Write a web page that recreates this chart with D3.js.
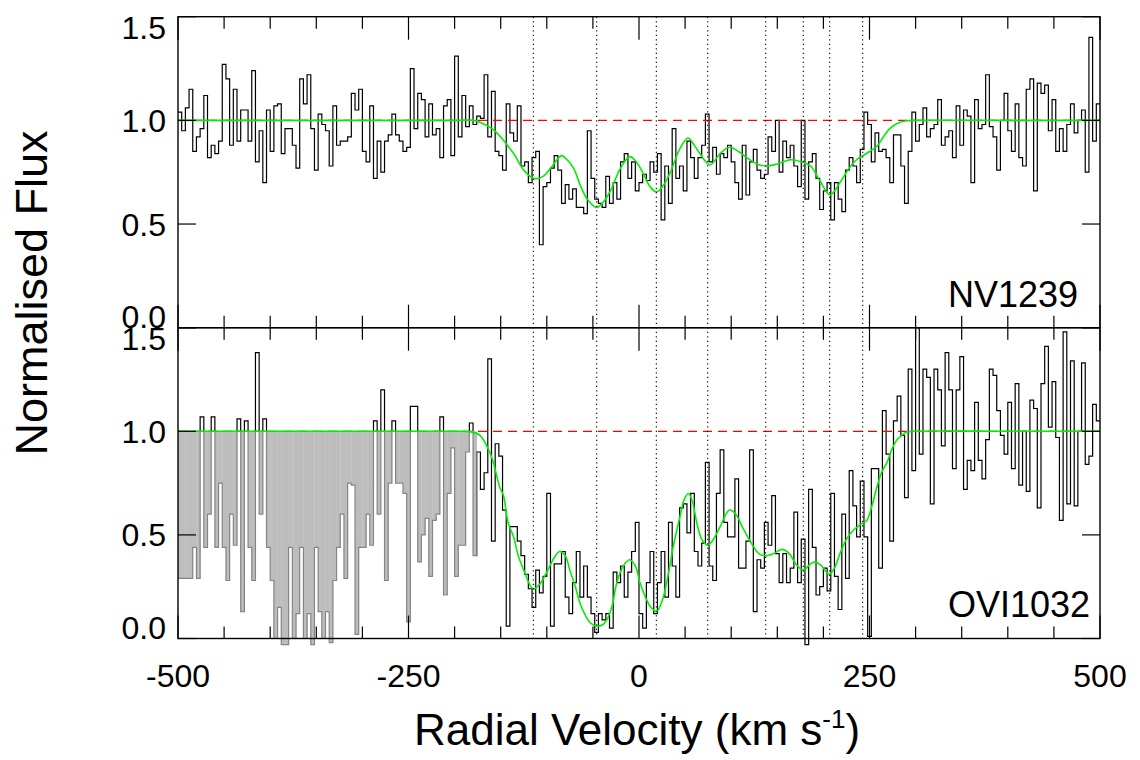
<!DOCTYPE html>
<html><head><meta charset="utf-8">
<script src="https://cdn.jsdelivr.net/npm/d3@7"></script>
<style>body{margin:0;background:#fff}svg{display:block}text{font-family:"Liberation Sans",Arial,sans-serif;fill:#000}</style>
</head><body><svg id="c" width="1140" height="760"></svg>
<script>
// ---------- data ----------
const vStart = -500, binWidth = 4;
const topFlux = [
1.04,0.95,1.06,1.15,0.85,0.92,0.96,1.12,0.82,0.88,
0.84,0.9,1.27,1.2,0.88,1.15,0.9,1.05,1.05,0.9,
1.24,0.8,0.95,0.7,1.05,0.85,1.07,1.08,0.84,0.96,
0.96,0.88,0.77,1.2,1.08,1.22,0.96,0.76,1.03,0.98,
0.95,0.78,1.07,0.88,0.9,0.9,0.92,1.13,1.05,1.15,
0.85,0.8,1.07,0.72,0.9,0.75,0.9,0.93,1.03,0.93,
0.9,0.85,0.87,1.25,0.96,1.13,1.1,0.92,1.08,0.93,
0.96,0.82,1.07,1.1,0.83,1.31,0.92,1.12,0.97,1.07,
0.98,1.02,1.01,1.22,0.92,1.14,0.85,
0.83,0.76,1.08,0.94,0.9,1.07,0.78,0.8,0.7,0.82,
0.85,0.4,0.68,0.7,0.77,0.83,0.76,0.6,0.69,0.62,
0.67,0.58,0.58,0.55,0.95,0.72,0.62,0.6,0.58,0.73,
0.6,0.7,0.62,0.8,0.84,0.72,0.8,0.66,0.7,0.74,
0.71,0.8,0.75,0.84,0.52,0.78,0.6,0.96,0.72,0.78,
0.66,0.9,0.82,0.72,0.82,0.88,1.03,0.8,0.87,0.74,
0.84,0.82,0.88,0.8,0.7,0.62,0.88,0.64,0.8,0.86,
0.76,0.72,0.74,0.92,0.85,1.0,0.75,0.9,0.82,0.88,
0.78,0.68,1.0,0.62,0.8,0.84,0.72,0.57,0.66,0.7,
0.52,0.7,0.62,0.56,0.76,0.82,0.78,0.7,0.86,1.04,
0.98,0.8,0.94,0.85,
0.86,
0.82,0.7,0.93,0.93,0.78,0.6,0.85,1.04,0.9,0.98,
1.06,0.92,0.96,0.98,1.1,0.88,0.92,0.95,0.82,1.07,
0.88,1.05,1.02,0.7,1.1,0.96,0.98,1.22,0.97,0.92,
0.76,1.0,1.13,0.95,0.85,1.08,0.82,0.78,1.15,1.2,
0.66,1.18,1.13,1.17,0.95,1.1,0.85,0.96,0.85,0.98,
1.08,0.94,1.0,1.05,0.75,1.4,0.9,1.08];

const botFlux = [
0.29,0.29,0.29,0.29,0.44,0.29,1.07,0.44,0.6,1.07,
0.44,0.75,0.44,0.28,0.6,0.45,1.06,0.13,1.05,0.44,
0.28,1.38,0.6,1.06,0.44,0.28,0.0,0.15,-0.03,-0.03,
0.44,0.0,0.12,0.44,0.0,0.12,-0.03,0.44,0.13,0.0,
0.13,-0.02,0.28,0.44,0.6,0.29,0.75,0.74,0.02,0.44,
0.44,0.6,0.45,1.05,0.6,1.2,0.28,0.75,1.05,0.75,
0.75,0.7,0.08,1.12,1.12,0.37,0.5,0.58,0.3,0.57,
0.6,1.07,0.21,0.7,0.92,0.3,0.45,0.45,0.9,1.04,
0.4,0.9,0.72,0.8,1.35,0.47,0.94,
0.88,0.62,0.06,0.54,0.54,0.47,0.4,0.31,0.24,0.15,
0.33,0.22,0.3,0.7,0.06,0.36,0.36,0.42,0.2,0.12,
0.27,0.42,0.2,0.35,0.2,0.12,0.03,0.12,0.09,0.12,
0.05,0.32,0.27,0.35,0.2,0.32,0.42,0.56,0.12,0.05,
0.27,0.42,0.12,0.27,0.42,0.2,0.56,0.35,0.2,0.63,
0.65,0.51,0.7,0.42,0.35,0.46,0.85,0.35,0.28,0.7,
0.91,0.56,0.49,0.49,0.77,0.34,0.34,0.47,0.91,0.13,
0.38,0.34,0.56,0.45,0.69,0.41,0.27,0.41,0.27,0.34,
0.61,0.27,0.48,-0.03,0.72,0.44,0.21,0.25,
0.34,0.23,0.7,0.3,0.14,0.6,0.29,0.81,0.64,0.49,
0.76,0.49,0.01,0.82,0.82,0.34,1.1,0.89,0.47,1.05,
1.17,0.98,0.68,1.3,0.81,1.5,0.89,1.3,1.26,0.65,
1.3,1.2,0.93,1.38,1.2,0.82,1.2,1.36,0.72,0.86,
0.81,1.14,0.86,0.77,0.96,1.3,1.27,1.1,0.98,0.89,
1.14,0.82,1.23,0.74,1.0,0.71,1.15,1.11,0.63,1.23,
1.41,1.02,1.24,0.97,0.57,1.48,0.65,1.34,0.64,1.0,
1.33,0.84,0.88,1.13,1.05];

const topFitV = [-500,-300,-200,-180,-172,-158,-136,-125,-114,-104,-94,-84,-78,-71,-63,-56,-46,-38,-31,-20,-10,-3,5,12,19,27,35,44,53,60,66,77,88,98,108,117,128,138,150,164,176,186,196,207,218,228,236,243,250,258,265,272,280,290,300,400,500];
const topFitF = [1,1,1,1,0.99,0.955,0.84,0.76,0.72,0.73,0.78,0.83,0.81,0.77,0.68,0.62,0.58,0.61,0.66,0.77,0.825,0.8,0.74,0.68,0.655,0.69,0.76,0.86,0.915,0.88,0.84,0.785,0.84,0.87,0.85,0.82,0.79,0.78,0.79,0.81,0.8,0.78,0.71,0.64,0.7,0.77,0.81,0.83,0.85,0.875,0.92,0.96,0.985,0.998,1,1,1];

const botFitV = [-500,-300,-200,-190,-183,-172.5,-162,-158,-151,-147,-142,-136,-131,-125,-115,-108,-100,-92,-86,-80,-75,-69,-64,-58,-53,-46,-40,-35,-29,-24,-17,-10,-4,1,7,12,19,25,30,37,44.5,49,53.5,58,62.6,68,74.5,81,88,98,105,113,124,130,137,146,155,163,170,178,186,191,198,206,212,218,225,232,240,247,252,258,263,269,274,280,285,290,300,400,500];
const botFitF = [1,1,1,1,0.998,0.98,0.9,0.85,0.73,0.69,0.56,0.49,0.4,0.33,0.24,0.26,0.32,0.39,0.42,0.4,0.33,0.25,0.17,0.11,0.076,0.06,0.065,0.09,0.16,0.27,0.35,0.38,0.35,0.27,0.2,0.156,0.13,0.18,0.27,0.44,0.59,0.67,0.7,0.66,0.56,0.48,0.45,0.48,0.54,0.62,0.6,0.53,0.445,0.41,0.4,0.41,0.43,0.41,0.36,0.33,0.36,0.37,0.35,0.31,0.34,0.41,0.48,0.52,0.55,0.57,0.63,0.73,0.8,0.85,0.91,0.96,0.98,0.995,1,1,1];

const componentV = [-114.6,-45.9,18.8,74.5,137.4,178.2,206.8,242.6];
const xTickMajor = [-500,-250,0,250,500];
const xTickLabels = ["-500","-250","0","250","500"];
const yTicks = [0,0.5,1.0,1.5];
const yTickLabels = ["0.0","0.5","1.0","1.5"];
const panelLabels = ["NV1239","OVI1032"];
const blendEndV = -176;   // bottom panel: blended region shown in grey
const xTitle = "Radial Velocity (km s";
const yTitle = "Normalised Flux";

// ---------- drawing ----------
const svg = d3.select("#c");
const L = 178, R = 1100;
const x = d3.scaleLinear([-500,500],[L,R]);
const panels = [
  {flux: topFlux, fv: topFitV, ff: topFitF, label: panelLabels[0], y: d3.scaleLinear([0,1.5],[327.7,16.7]), labelY: 307, grey:false},
  {flux: botFlux, fv: botFitV, ff: botFitF, label: panelLabels[1], y: d3.scaleLinear([0,1.5],[638.5,327.7]), labelY: 617, grey:true}
];
const defs = svg.append("defs");

panels.forEach((p, pi) => {
  const y = p.y;
  const top = y(1.5), bot = y(0);
  const g = svg.append("g");
  const cid = "clip"+pi;
  defs.append("clipPath").attr("id", cid).append("rect")
    .attr("x", L).attr("y", top).attr("width", R-L).attr("height", (bot - top) + (pi===1 ? 10 : 0));

  const pts = p.flux.map((f,i) => [vStart + binWidth*i, f]);
  pts.push([vStart + binWidth*p.flux.length, p.flux[p.flux.length-1]]);
  const step = d3.line().x(d => x(Math.min(500, d[0]))).y(d => y(d[1])).curve(d3.curveStepAfter);

  const dg = g.append("g").attr("clip-path", `url(#${cid})`);
  if (p.grey) {
    // grey fill between data and continuum in blended region
    const bins = p.flux.map((f,i) => ({v0: vStart+binWidth*i, v1: vStart+binWidth*(i+1), f}))
      .filter(b => b.v1 <= blendEndV + 0.01 && b.f < 1);
    dg.selectAll("rect.fill").data(bins).join("rect")
      .attr("x", b => x(b.v0)).attr("width", b => x(b.v1) - x(b.v0) + 0.3)
      .attr("y", y(1)).attr("height", b => y(b.f) - y(1))
      .attr("fill", "#bdbdbd");
    const cg = "clipGreyBelow", cb = "clipBlackRest";
    defs.append("clipPath").attr("id", cg).append("rect")
      .attr("x", L).attr("y", y(1)).attr("width", x(blendEndV) - L).attr("height", bot + 10 - y(1));
    const cbp = defs.append("clipPath").attr("id", cb);
    cbp.append("rect").attr("x", L).attr("y", top).attr("width", x(blendEndV) - L).attr("height", y(1) - top);
    cbp.append("rect").attr("x", x(blendEndV)).attr("y", top).attr("width", R - x(blendEndV)).attr("height", bot + 10 - top);
    dg.append("path").attr("d", step(pts)).attr("fill","none").attr("stroke","#858585").attr("stroke-width",1.2).attr("clip-path", `url(#${cg})`);
    dg.append("path").attr("d", step(pts)).attr("fill","none").attr("stroke","#000").attr("stroke-width",1.2).attr("clip-path", `url(#${cb})`);
  } else {
    dg.append("path").attr("d", step(pts)).attr("fill","none").attr("stroke","#000").attr("stroke-width",1.2);
  }

  // continuum (red dashed)
  g.append("line").attr("x1", x(-500)).attr("x2", x(500)).attr("y1", y(1)).attr("y2", y(1))
    .attr("stroke", "#ff0000").attr("stroke-width", 1.3).attr("stroke-dasharray", "9,6");

  // fit (green)
  const fit = d3.line().x((d,i) => x(p.fv[i])).y(d => y(d)).curve(d3.curveCatmullRom.alpha(0.5));
  g.append("path").attr("d", fit(p.ff)).attr("fill","none").attr("stroke","#00ee00").attr("stroke-width",1.6)
    .attr("clip-path", `url(#${cid})`);

  // frame
  g.append("rect").attr("x", L).attr("y", top).attr("width", R-L).attr("height", bot-top)
    .attr("fill","none").attr("stroke","#000").attr("stroke-width",1.4);

  // x ticks (inside, top & bottom)
  d3.range(-500, 501, 50).forEach(v => {
    const len = (v % 250 === 0) ? 23 : 12;
    g.append("line").attr("x1", x(v)).attr("x2", x(v)).attr("y1", top).attr("y2", top+len).attr("stroke","#000").attr("stroke-width",1.2);
    g.append("line").attr("x1", x(v)).attr("x2", x(v)).attr("y1", bot).attr("y2", bot-len).attr("stroke","#000").attr("stroke-width",1.2);
  });
  // y ticks & labels
  const yOff = {0: -11.5, 1.5: 10.5};
  yTicks.forEach((t, ti) => {
    g.append("line").attr("x1", L).attr("x2", L+18).attr("y1", y(t)).attr("y2", y(t)).attr("stroke","#000").attr("stroke-width",1.2);
    g.append("line").attr("x1", R).attr("x2", R-18).attr("y1", y(t)).attr("y2", y(t)).attr("stroke","#000").attr("stroke-width",1.2);
    g.append("text").attr("x", 166).attr("y", y(t) + 11.5 + (yOff[t] || 0))
      .attr("text-anchor","end").attr("font-size", 32).text(yTickLabels[ti]);
  });

  // panel label
  g.append("text").attr("x", 948).attr("y", p.labelY).attr("font-size", 36).text(p.label);
});

// component markers (dotted verticals through both panels)
svg.append("g").selectAll("line").data(componentV).join("line")
  .attr("x1", d => x(d)).attr("x2", d => x(d)).attr("y1", 16.7).attr("y2", 638.5)
  .attr("stroke", "#000").attr("stroke-width", 1.1).attr("stroke-dasharray", "1.3,3.2");

// x tick labels
svg.append("g").selectAll("text").data(xTickMajor).join("text")
  .attr("x", d => x(d)).attr("y", 687).attr("text-anchor","middle").attr("font-size", 32)
  .text((d,i) => xTickLabels[i]);

// axis titles
const xt = svg.append("text").attr("x", 637).attr("y", 745).attr("text-anchor","middle").attr("font-size", 44);
xt.append("tspan").text(xTitle);
xt.append("tspan").attr("font-size", 26).attr("dy", -17).text("-1");
xt.append("tspan").attr("dy", 17).text(")");

svg.append("text").attr("transform", "translate(47,293) rotate(-90)").attr("text-anchor","middle")
  .attr("font-size", 45).text(yTitle);
</script></body></html>
